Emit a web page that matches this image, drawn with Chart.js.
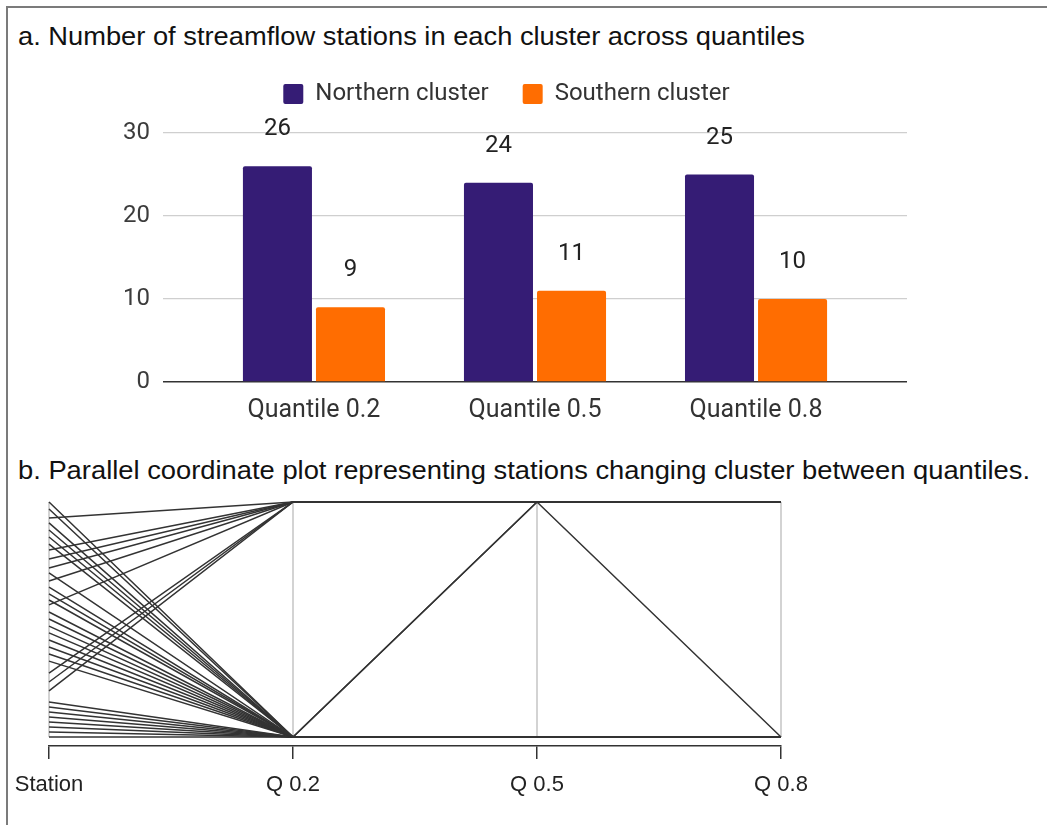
<!DOCTYPE html>
<html>
<head>
<meta charset="utf-8">
<script src="https://cdn.jsdelivr.net/npm/chart.js@4.4.1/dist/chart.umd.min.js"></script>
<style>
  html, body { margin: 0; padding: 0; background: #fff; }
  #page { position: relative; width: 1047px; height: 825px; overflow: hidden; background: #fff; }
  #frame { position: absolute; left: 6px; top: 6px; width: 1200px; height: 1000px;
           border-left: 2px solid #7b7b7b; border-top: 2px solid #7b7b7b; }
  .title { position: absolute; left: 18px; white-space: nowrap; color: #111;
           font-family: "Liberation Sans", Arial, sans-serif; font-size: 26px; line-height: 28px;
           transform-origin: 0 50%; }
  #titleA { top: 22px; }
  #titleB { top: 456px; }
  #barBox { position: absolute; left: 0; top: 0; width: 1047px; height: 440px; }
  #pcBox { position: absolute; left: 0; top: 480px; width: 1047px; height: 345px; }
</style>
</head>
<body>
<div id="page">
  <div id="frame"></div>
  <div id="titleA" class="title" data-w="787">a. Number of streamflow stations in each cluster across quantiles</div>
  <div id="titleB" class="title" data-w="1012">b. Parallel coordinate plot representing stations changing cluster between quantiles.</div>
  <div id="barBox"><canvas id="bar" width="1047" height="440"></canvas></div>
  <div id="pcBox"><canvas id="pc" width="1047" height="345"></canvas></div>
</div>
<script>
// ---- Panel a: station counts per cluster ----
const quantiles = ['Quantile 0.2', 'Quantile 0.5', 'Quantile 0.8'];
const northern = [26, 24, 25];
const southern = [9, 11, 10];
const yTicks = [0, 10, 20, 30];

// ---- Panel b: parallel coordinates ----
const pcAxes = ['Station', 'Q 0.2', 'Q 0.5', 'Q 0.8'];
// position of each station on the Station axis
const stationValues = [100, 97.0, 93.2, 91.1, 88.1, 85.1, 82.1, 79.6, 75.7, 71.9,
                       69.8, 66.4, 63.8, 60.9, 58.3, 56.2, 53.2, 50.2, 47.2, 44.3,
                       41.3, 38.3, 35.3, 32.3, 27.2, 23.4, 19.6, 14.9, 12.8, 10.6,
                       8.5, 6.4, 4.3, 2.1, 0];
// cluster membership (N = northern, S = southern) at each quantile
const clusterQ02 = ['N','N','S','N','N','N','N','S','S','S',
                    'N','S','N','N','N','S','N','N','N','N',
                    'N','N','N','N','S','S','S','N','N','N',
                    'N','N','N','N','N'];
const clusterQ05 = ['N','N','S','N','N','N','N','S','S','S',
                    'N','S','N','N','N','S','N','N','N','S',
                    'N','N','N','N','S','S','S','N','S','N',
                    'N','N','N','N','N'];
const clusterQ08 = ['N','N','S','N','N','N','N','S','S','S',
                    'N','S','N','N','N','S','N','N','N','S',
                    'N','N','N','N','S','S','S','N','N','N',
                    'N','N','N','N','N'];

// fit the HTML titles to their line length
document.querySelectorAll('.title').forEach(el => {
  const w = el.getBoundingClientRect().width;
  el.style.transform = 'scaleX(' + (Number(el.dataset.w) / w) + ')';
});

const ROBOTO = 'Roboto, "Liberation Sans", Arial, sans-serif';

// value labels above each bar
const valueLabels = {
  id: 'valueLabels',
  afterDatasetsDraw(chart) {
    const ctx = chart.ctx;
    ctx.save();
    ctx.font = '24px ' + ROBOTO;
    ctx.fillStyle = '#222';
    ctx.textAlign = 'center';
    ctx.textBaseline = 'middle';
    chart.data.datasets.forEach((ds, di) => {
      chart.getDatasetMeta(di).data.forEach((bar, i) => {
        ctx.fillText(String(ds.data[i].y), bar.x, bar.y - 37);
      });
    });
    ctx.restore();
  }
};

new Chart(document.getElementById('bar'), {
  type: 'bar',
  data: {
    datasets: [
      { label: 'Northern cluster', data: northern.map((v, i) => ({ x: i, y: v })),
        backgroundColor: '#351c75', borderRadius: 2,
        categoryPercentage: 0.661, barPercentage: 0.945 },
      { label: 'Southern cluster', data: southern.map((v, i) => ({ x: i, y: v })),
        backgroundColor: '#ff6d01', borderRadius: 2,
        categoryPercentage: 0.661, barPercentage: 0.945 }
    ]
  },
  options: {
    responsive: false,
    animation: false,
    events: [],
    layout: { padding: { left: 106, right: 140, top: 48, bottom: 0 }, autoPadding: false },
    plugins: {
      tooltip: { enabled: false },
      legend: {
        position: 'top',
        labels: { boxWidth: 20, boxHeight: 20, padding: 34, color: '#333',
                  font: { family: ROBOTO, size: 24 }, useBorderRadius: true, borderRadius: 2 }
      }
    },
    scales: {
      x: {
        type: 'linear', min: -0.683, max: 2.683, offset: false,
        grid: { display: false }, border: { display: false },
        afterBuildTicks: s => { s.ticks = quantiles.map((_, i) => ({ value: i })); },
        afterFit: s => { s.height = 58; },
        ticks: { callback: v => quantiles[v], color: '#333', padding: 6, maxRotation: 0, autoSkip: false,
                 font: { family: ROBOTO, size: 25 } }
      },
      y: {
        min: 0, max: 32.05,
        afterBuildTicks: s => { s.ticks = yTicks.map(v => ({ value: v })); },
        afterFit: s => { s.width = 57; },
        border: { display: false },
        grid: { drawTicks: false,
                color: c => (c.tick && c.tick.value === 0) ? '#333' : '#cfcfcf',
                lineWidth: c => (c.tick && c.tick.value === 0) ? 1.6 : 1.2 },
        ticks: { color: '#3c3c3c', padding: 13, font: { family: ROBOTO, size: 24 } }
      }
    }
  },
  plugins: [valueLabels]
});

// ---- parallel coordinate chart ----
const sMin = Math.min(...stationValues), sMax = Math.max(...stationValues);
const clusterY = c => (c === 'S' ? 1 : 0);
const stationSets = stationValues.map((v, i) => ({
  data: [
    { x: 0, y: (v - sMin) / (sMax - sMin) },
    { x: 1, y: clusterY(clusterQ02[i]) },
    { x: 2, y: clusterY(clusterQ05[i]) },
    { x: 3, y: clusterY(clusterQ08[i]) }
  ],
  borderColor: '#333', borderWidth: 1.5, order: 0, clip: false
}));
const axisSets = pcAxes.map((_, i) => ({
  data: [{ x: i, y: 0 }, { x: i, y: 1 }],
  borderColor: '#c4c4c4', borderWidth: 1.5, order: 1, clip: false
}));

new Chart(document.getElementById('pc'), {
  type: 'line',
  data: { datasets: stationSets.concat(axisSets) },
  options: {
    responsive: false,
    animation: false,
    events: [],
    layout: { padding: { left: 49, right: 266, top: 22, bottom: 0 }, autoPadding: false },
    plugins: { legend: { display: false }, tooltip: { enabled: false } },
    elements: { point: { radius: 0 }, line: { tension: 0 } },
    scales: {
      x: {
        type: 'linear', min: 0, max: 3,
        afterBuildTicks: s => { s.ticks = pcAxes.map((_, i) => ({ value: i })); },
        afterFit: s => { s.height = 79; },
        grid: { drawOnChartArea: false, drawTicks: true, tickLength: 13, color: '#333', lineWidth: 1.5 },
        border: { display: true, color: '#333', width: 1.5 },
        ticks: { callback: v => pcAxes[v], color: '#222', padding: 13, maxRotation: 0, autoSkip: false,
                 font: { family: '"Liberation Sans", Arial, sans-serif', size: 22 } }
      },
      y: { display: false, min: -0.0383, max: 1 }
    }
  }
});
</script>
</body>
</html>
